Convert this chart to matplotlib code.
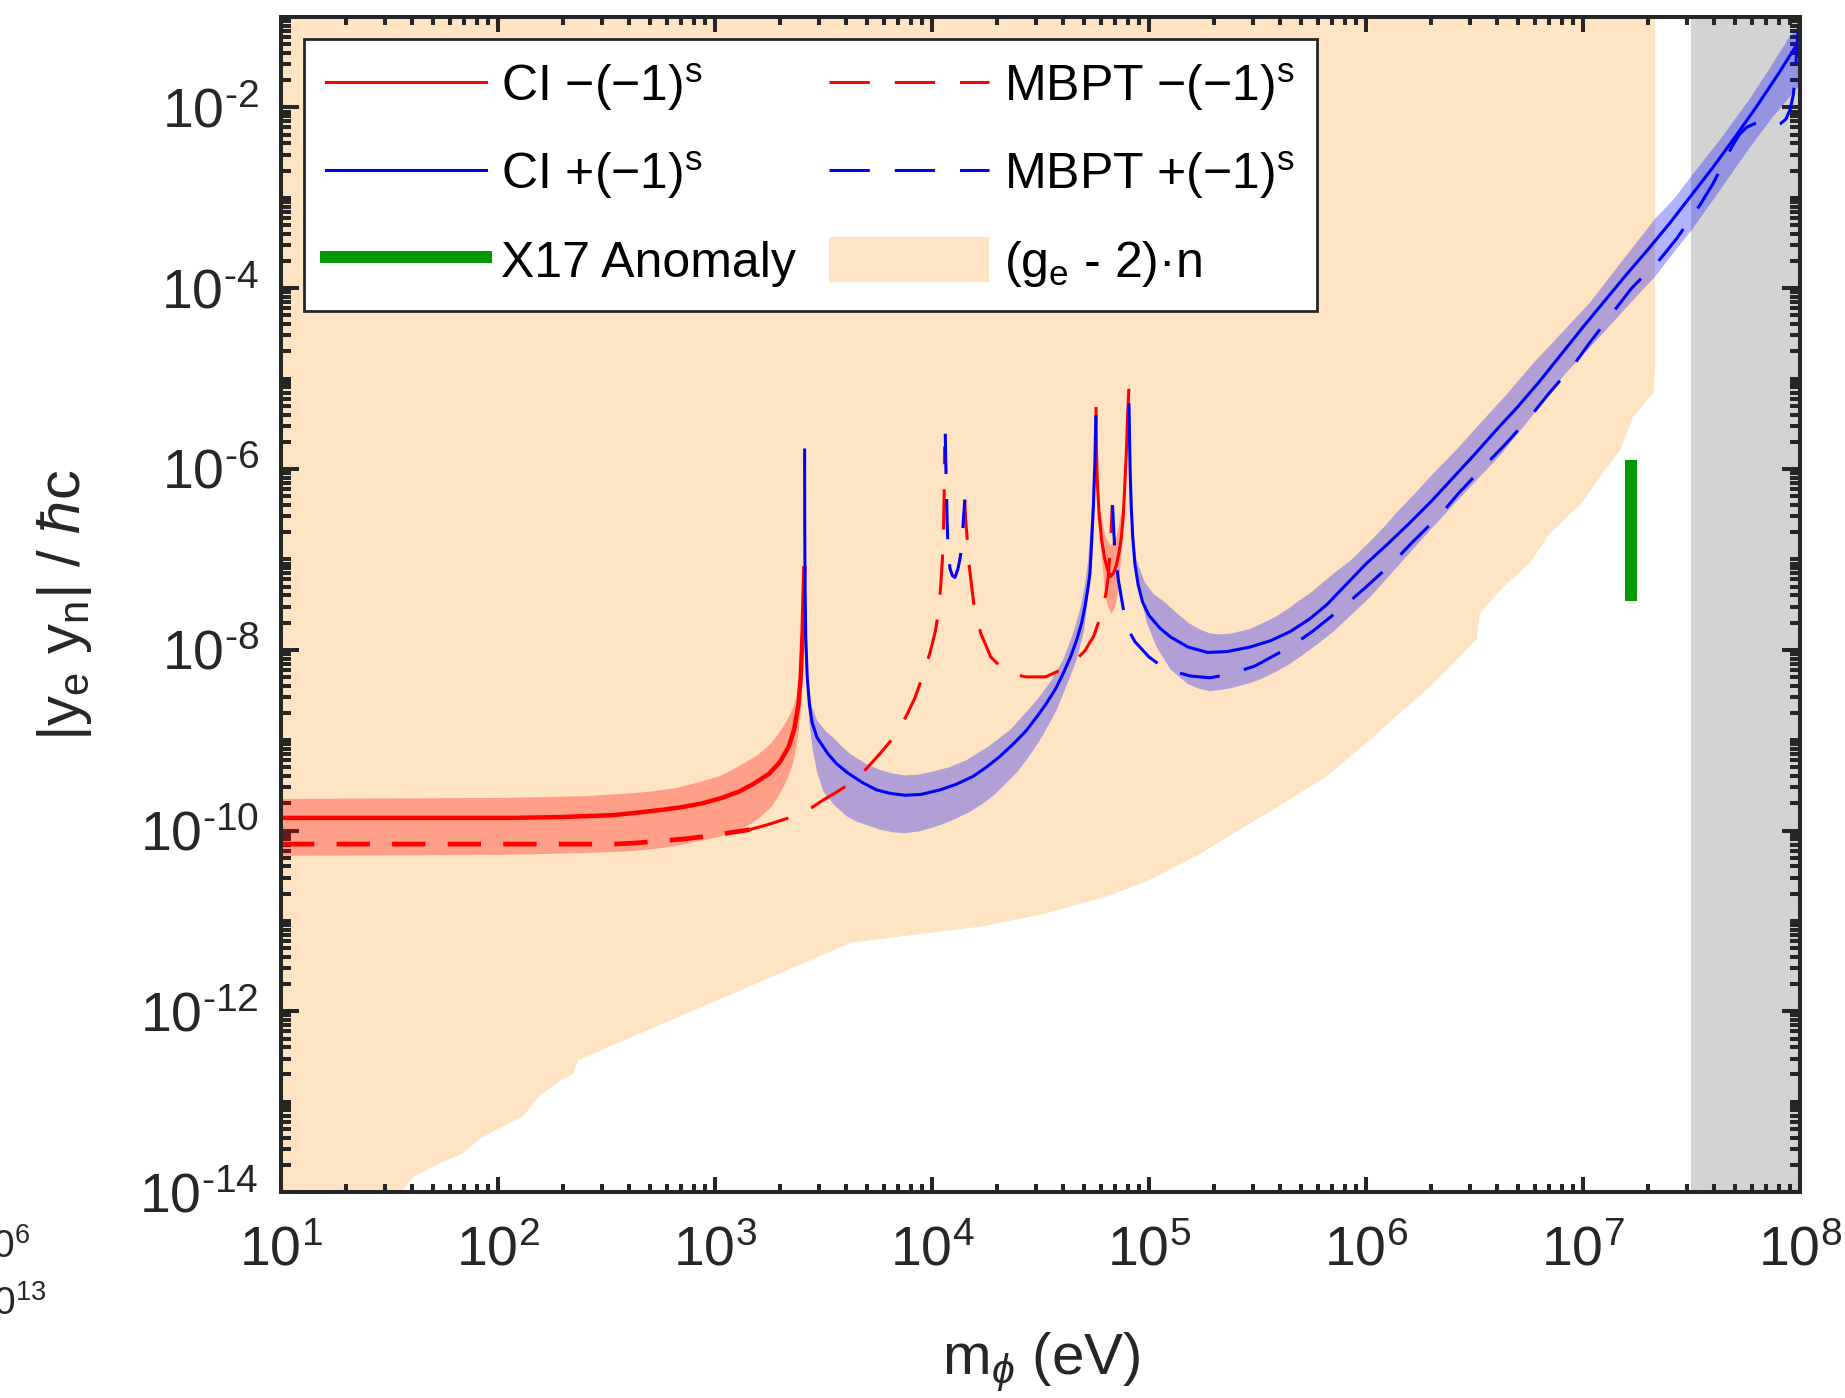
import numpy as np
import matplotlib
matplotlib.use("Agg")
import matplotlib.pyplot as plt
from matplotlib.patches import Patch
from matplotlib.lines import Line2D
from matplotlib.ticker import LogLocator, FixedLocator, FuncFormatter, NullFormatter

plt.rcParams["font.family"] = ["Liberation Sans", "DejaVu Sans"]
plt.rcParams["mathtext.fontset"] = "custom"
plt.rcParams["mathtext.rm"] = "Liberation Sans"
plt.rcParams["mathtext.it"] = "Liberation Sans:italic"
plt.rcParams["mathtext.bf"] = "Liberation Sans:bold"
plt.rcParams["mathtext.fallback"] = "stix"
plt.rcParams["axes.unicode_minus"] = False
plt.rcParams["lines.scale_dashes"] = False

# ---- data (log10 of mass in eV, log10 of |y_e y_n|) ----
# CI curve, split by sign
ci_red1_lm = [1.0, 1.5, 2.07, 2.3, 2.53, 2.65, 2.76, 2.85, 2.94, 3.03, 3.11, 3.18, 3.25, 3.30, 3.34, 3.365, 3.385,
              3.395, 3.404, 3.410, 3.412]
ci_red1_ly = [-9.86, -9.86, -9.86, -9.85, -9.83, -9.80, -9.77, -9.74, -9.70, -9.64, -9.57, -9.48, -9.37, -9.24, -9.07,
              -8.88, -8.60, -8.30, -7.80, -7.25, -7.10]

ci_blue1_lm = [3.413, 3.4135, 3.415, 3.418, 3.425, 3.435, 3.447, 3.47, 3.52, 3.56, 3.61, 3.68, 3.744, 3.81, 3.876,
               3.95, 4.037, 4.11, 4.19, 4.25, 4.313, 4.38, 4.436, 4.49, 4.528, 4.57, 4.605, 4.64, 4.667, 4.69,
               4.705, 4.72, 4.728, 4.736, 4.744, 4.751, 4.755]
ci_blue1_ly = [-5.79, -6.6, -7.3, -7.85, -8.30, -8.60, -8.80, -8.97, -9.15, -9.26, -9.36, -9.47, -9.55, -9.59, -9.61,
               -9.60, -9.55, -9.49, -9.40, -9.30, -9.18, -9.03, -8.89, -8.72, -8.59, -8.43, -8.26, -8.07, -7.89, -7.70,
               -7.52, -7.30, -7.15, -6.80, -6.40, -5.90, -5.42]

ci_red2_lm = [4.756, 4.758, 4.762, 4.770, 4.782, 4.795, 4.810, 4.823, 4.837, 4.850, 4.862, 4.873, 4.882, 4.889, 4.896, 4.902, 4.907]
ci_red2_ly = [-5.33, -5.80, -6.15, -6.50, -6.79, -6.98, -7.12, -7.19, -7.15, -7.06, -6.92, -6.75, -6.50, -6.15, -5.80, -5.38, -5.13]

ci_blue2_lm = [4.908, 4.910, 4.913, 4.918, 4.925, 4.935, 4.95, 4.97, 5.0, 5.05, 5.10, 5.18, 5.27, 5.36, 5.465, 5.56,
               5.65, 5.74, 5.82, 5.90, 6.0, 6.1, 6.2, 6.3, 6.4, 6.5, 6.6, 6.7, 6.8, 6.9, 7.0, 7.1, 7.2, 7.3, 7.4,
               7.5, 7.6, 7.7, 7.8, 7.9, 8.0]
ci_blue2_ly = [-5.29, -5.6, -6.0, -6.4, -6.75, -7.05, -7.28, -7.47, -7.62, -7.76, -7.86, -7.97, -8.03, -8.02, -7.97, -7.90,
               -7.80, -7.66, -7.50, -7.30, -7.05, -6.83, -6.60, -6.36, -6.10, -5.84, -5.57, -5.31, -5.03, -4.73, -4.43,
               -4.14, -3.85, -3.57, -3.28, -2.97, -2.66, -2.33, -1.99, -1.63, -1.25]

# MBPT curve, split by sign
mb_red1a_lm = [1.0, 1.5, 2.0, 2.53, 2.62, 2.73, 2.87, 3.0, 3.08, 3.16]
mb_red1a_ly = [-10.15, -10.15, -10.15, -10.15, -10.14, -10.12, -10.09, -10.05, -10.02, -9.99]
mb_red1b_lm = [3.16, 3.25, 3.34, 3.40, 3.45, 3.50, 3.55, 3.61, 3.66, 3.70, 3.76, 3.82, 3.85, 3.88, 3.92, 3.95, 3.99,
               4.015, 4.029, 4.040, 4.048, 4.053, 4.056, 4.058]
mb_red1b_ly = [-9.99, -9.93, -9.86, -9.80, -9.74, -9.66, -9.59, -9.50, -9.41, -9.31, -9.15, -8.98, -8.87, -8.74, -8.54,
               -8.34, -8.04, -7.80, -7.60, -7.30, -7.00, -6.70, -6.30, -5.75]

mb_blue1_lm = [4.061, 4.065, 4.070, 4.074, 4.083, 4.094, 4.106, 4.120, 4.130, 4.136, 4.145, 4.151]
mb_blue1_ly = [-5.61, -6.09, -6.60, -6.88, -7.10, -7.18, -7.20, -7.10, -6.98, -6.88, -6.56, -6.34]

mb_red2_lm = [4.151, 4.155, 4.163, 4.171, 4.183, 4.194, 4.225, 4.271, 4.317, 4.375, 4.432, 4.524, 4.605, 4.66, 4.705,
              4.745, 4.78, 4.80, 4.812, 4.822, 4.828, 4.831]
mb_red2_ly = [-6.34, -6.56, -6.79, -7.06, -7.30, -7.52, -7.82, -8.08, -8.19, -8.27, -8.30, -8.30, -8.21, -8.12, -8.01,
              -7.85, -7.61, -7.40, -7.20, -6.85, -6.56, -6.40]

mb_blue2_lm = [4.832, 4.838, 4.843, 4.859, 4.889, 4.91, 4.935, 5.0, 5.074, 5.189, 5.281, 5.373, 5.488, 5.657, 5.757,
               5.903, 6.003, 6.126, 6.218, 6.349, 6.426, 6.556, 6.641, 6.764, 6.841, 6.96, 7.032, 7.147, 7.224, 7.355,
               7.432, 7.539, 7.60, 7.685, 7.72, 7.754, 7.79, 7.83, 7.86, 7.885, 7.91, 7.935, 7.955, 7.97, 7.98, 7.99, 8.0]
mb_blue2_ly = [-6.40, -6.70, -6.91, -7.23, -7.65, -7.80, -7.91, -8.08, -8.21, -8.29, -8.31, -8.27, -8.18, -7.96, -7.79,
               -7.51, -7.30, -7.03, -6.80, -6.49, -6.27, -5.94, -5.73, -5.40, -5.17, -4.84, -4.60, -4.24, -4.00, -3.68,
               -3.45, -3.08, -2.84, -2.44, -2.30, -2.22, -2.18, -2.17, -2.20, -2.21, -2.18, -2.13, -2.02, -1.85, -1.55, -1.20, -0.95]

# CI uncertainty bands (upper edge, lower edge)
rb1_up_lm = [1.0, 2.0, 2.4, 2.6, 2.7, 2.82, 2.92, 3.02, 3.08, 3.13, 3.18, 3.22, 3.26, 3.29, 3.32, 3.34, 3.36, 3.376,
             3.392, 3.404, 3.41]
rb1_up_ly = [-9.65, -9.64, -9.62, -9.59, -9.57, -9.53, -9.47, -9.40, -9.33, -9.26, -9.19, -9.12, -9.03, -8.94, -8.83,
             -8.74, -8.64, -8.52, -8.25, -7.95, -7.70]
rb1_lo_lm = [1.0, 2.0, 2.4, 2.6, 2.7, 2.82, 2.92, 3.02, 3.07, 3.11, 3.17, 3.22, 3.26, 3.29, 3.32, 3.345, 3.361, 3.375,
             3.387, 3.396, 3.403, 3.41]
rb1_lo_ly = [-10.28, -10.27, -10.25, -10.23, -10.21, -10.17, -10.12, -10.07, -10.03, -9.99, -9.92, -9.83, -9.74, -9.63,
             -9.50, -9.36, -9.24, -9.08, -8.88, -8.65, -8.35, -7.70]

bb1_up_lm = [3.4135, 3.416, 3.42, 3.43, 3.445, 3.47, 3.51, 3.553, 3.58, 3.622, 3.694, 3.76, 3.82, 3.876, 3.94, 4.0,
             4.08, 4.16, 4.26, 4.359, 4.42, 4.482, 4.55, 4.605, 4.65, 4.682, 4.705, 4.720, 4.735, 4.748]
bb1_up_ly = [-7.0, -7.6, -8.0, -8.4, -8.62, -8.78, -8.90, -8.99, -9.06, -9.15, -9.26, -9.33, -9.37, -9.39, -9.38, -9.35,
             -9.30, -9.22, -9.07, -8.89, -8.73, -8.56, -8.34, -8.11, -7.82, -7.56, -7.28, -7.01, -6.5, -5.9]
bb1_lo_lm = [3.4145, 3.418, 3.425, 3.435, 3.45, 3.47, 3.50, 3.55, 3.606, 3.65, 3.70, 3.76, 3.82, 3.876, 3.94, 4.0,
             4.05, 4.10, 4.17, 4.236, 4.29, 4.34, 4.39, 4.436, 4.47, 4.51, 4.574, 4.62, 4.667, 4.70, 4.713, 4.736,
             4.745, 4.752]
bb1_lo_ly = [-7.2, -7.9, -8.4, -8.8, -9.1, -9.35, -9.57, -9.72, -9.84, -9.90, -9.94, -9.99, -10.02, -10.03, -10.01,
             -9.97, -9.93, -9.88, -9.80, -9.70, -9.60, -9.48, -9.36, -9.22, -9.10, -8.95, -8.67, -8.40, -8.11, -7.80,
             -7.56, -7.01, -6.5, -5.9]

rb2_up_lm = [4.766, 4.80, 4.823, 4.85, 4.885]
rb2_up_ly = [-6.35, -6.75, -6.85, -6.75, -6.35]
rb2_lo_lm = [4.766, 4.78, 4.795, 4.81, 4.828, 4.845, 4.86, 4.875, 4.885]
rb2_lo_ly = [-6.35, -6.90, -7.30, -7.52, -7.60, -7.52, -7.30, -6.90, -6.35]

bb2_up_lm = [4.908, 4.915, 4.925, 4.943, 4.98, 5.02, 5.081, 5.13, 5.18, 5.23, 5.281, 5.33, 5.38, 5.465, 5.52, 5.58,
             5.64, 5.696, 5.75, 5.80, 5.86, 5.926, 6.003, 6.08, 6.15, 6.23, 6.31, 6.42, 6.525, 6.65, 6.771, 6.90,
             7.032, 7.18, 7.333, 7.42, 7.5, 7.64, 7.77, 7.86, 7.954, 8.0]
bb2_up_ly = [-5.4, -6.2, -6.7, -7.01, -7.25, -7.38, -7.49, -7.60, -7.70, -7.77, -7.82, -7.83, -7.82, -7.77, -7.71,
             -7.64, -7.55, -7.45, -7.36, -7.26, -7.14, -7.02, -6.84, -6.65, -6.46, -6.26, -6.05, -5.78, -5.50, -5.17,
             -4.83, -4.50, -4.16, -3.70, -3.23, -3.01, -2.76, -2.33, -1.90, -1.57, -1.21, -1.10]
bb2_lo_lm = [4.909, 4.912, 4.92, 4.935, 4.96, 4.99, 5.035, 5.10, 5.18, 5.23, 5.281, 5.37, 5.465, 5.52, 5.58, 5.64,
             5.696, 5.77, 5.85, 5.93, 6.018, 6.16, 6.31, 6.46, 6.618, 6.77, 6.925, 7.08, 7.232, 7.333, 7.42, 7.5,
             7.63, 7.77, 7.88, 8.0]
bb2_lo_ly = [-5.5, -6.0, -6.5, -6.95, -7.40, -7.70, -7.97, -8.22, -8.38, -8.43, -8.46, -8.43, -8.37, -8.32, -8.25,
             -8.17, -8.08, -7.95, -7.80, -7.62, -7.42, -7.04, -6.64, -6.25, -5.85, -5.40, -4.93, -4.53, -4.13, -3.87,
             -3.60, -3.36, -2.92, -2.44, -2.09, -1.75]

# (g_e - 2) n excluded region: lower boundary
ge2_lm = [1.0, 1.55, 1.561, 1.613, 1.736, 1.839, 1.922, 2.117, 2.189, 2.290, 2.343, 2.370, 3.629, 4.236, 4.52, 4.805,
          5.0, 5.227, 5.419, 5.619, 5.819, 6.018, 6.118, 6.295, 6.510, 6.525, 6.618, 6.756, 6.848, 6.994, 7.078,
          7.171, 7.232, 7.325, 7.332]
ge2_ly = [-14.5, -14.5, -13.98, -13.83, -13.68, -13.57, -13.40, -13.16, -12.94, -12.76, -12.70, -12.54, -11.24, -11.06,
          -10.92, -10.73, -10.55, -10.27, -9.99, -9.70, -9.40, -9.00, -8.78, -8.41, -7.89, -7.60, -7.34, -7.04, -6.71,
          -6.38, -6.09, -5.79, -5.42, -5.16, -4.90]

# X17 anomaly and grey region
x17_mass = 1.66e7
x17_range = [3.5e-8, 1.26e-6]
grey_range = [3.15e7, 1e8]

# ---- colours ----
red = "#FF0000"
blue = "#0000FF"
green = "#009900"
orange = "#FFE4C4"
grey = "#D3D3D3"
ink = "#262626"

fig = plt.figure(figsize=(18.45, 13.98), dpi=100)
ax = fig.add_axes([0.1523, 0.1473, 0.8233, 0.8405])


def p(lm, ly):
    return 10.0 ** np.asarray(lm), 10.0 ** np.asarray(ly)


def band(ax, up_lm, up_ly, lo_lm, lo_ly, color):
    xu, yu = p(up_lm, up_ly)
    xl, yl = p(lo_lm, lo_ly)
    ax.fill(np.concatenate([xu, xl[::-1]]), np.concatenate([yu, yl[::-1]]),
            color=color, alpha=0.3, lw=0, zorder=2)


# background regions
gx, gy = p(ge2_lm, ge2_ly)
ax.fill(np.concatenate([gx, [gx[-1], gx[0]]]), np.concatenate([gy, [1.0, 1.0]]),
        color=orange, lw=0, zorder=1)
ax.axvspan(grey_range[0], grey_range[1], color=grey, lw=0, zorder=1)

# bands
band(ax, rb1_up_lm, rb1_up_ly, rb1_lo_lm, rb1_lo_ly, red)
band(ax, rb2_up_lm, rb2_up_ly, rb2_lo_lm, rb2_lo_ly, red)
band(ax, bb1_up_lm, bb1_up_ly, bb1_lo_lm, bb1_lo_ly, blue)
band(ax, bb2_up_lm, bb2_up_ly, bb2_lo_lm, bb2_lo_ly, blue)

# curves
dash = (0, (29, 18))
lw = 2.2
ax.plot(*p(ci_red1_lm, ci_red1_ly), color=red, lw=3.2, zorder=4)
ax.plot(*p(ci_red2_lm, ci_red2_ly), color=red, lw=lw, zorder=4)
ax.plot(*p(ci_blue1_lm, ci_blue1_ly), color=blue, lw=lw, zorder=4)
ax.plot(*p(ci_blue2_lm, ci_blue2_ly), color=blue, lw=lw, zorder=4)
ax.plot(*p(mb_red1a_lm, mb_red1a_ly), color=red, lw=3.4, ls=(0, (24, 16)), zorder=4)
ax.plot(*p(mb_red1b_lm, mb_red1b_ly), color=red, lw=lw, ls=dash, zorder=4)
ax.plot(*p(mb_red2_lm, mb_red2_ly), color=red, lw=lw, ls=dash, zorder=4)
ax.plot(*p(mb_blue1_lm, mb_blue1_ly), color=blue, lw=lw, ls=dash, zorder=4)
ax.plot(*p(mb_blue2_lm, mb_blue2_ly), color=blue, lw=lw, ls=dash, zorder=4)
ax.plot([x17_mass, x17_mass], x17_range, color=green, lw=8.6, solid_capstyle="butt", zorder=5)

ax.set_xscale("log")
ax.set_yscale("log")
ax.set_xlim(1e1, 1e8)
ax.set_ylim(1e-14, 1e-1)


def pow10(v, pos):
    k = int(round(np.log10(v)))
    if k < 0:
        return r"10$^{\text{-%d}}$" % (-k)
    return r"10$^{%d}$" % k


ax.xaxis.set_major_locator(LogLocator(base=10, numticks=20))
ax.xaxis.set_major_formatter(FuncFormatter(pow10))
ax.xaxis.set_minor_locator(LogLocator(base=10, subs=np.arange(2, 10), numticks=100))
ax.xaxis.set_minor_formatter(NullFormatter())
ax.yaxis.set_major_locator(FixedLocator([10.0 ** k for k in range(-14, -1, 2)]))
ax.yaxis.set_major_formatter(FuncFormatter(pow10))
ax.yaxis.set_minor_locator(FixedLocator([m * 10.0 ** k for k in range(-14, -1) for m in range(1, 10)]))
ax.yaxis.set_minor_formatter(NullFormatter())

ax.tick_params(which="both", direction="in", top=True, right=True, colors=ink, width=2.9)
ax.tick_params(axis="x", which="major", length=11, pad=24, labelsize=40)
ax.tick_params(axis="x", which="minor", length=5.5)
ax.tick_params(axis="y", which="major", length=13, pad=16, labelsize=40)
ax.tick_params(axis="y", which="minor", length=7.5)
for s in ax.spines.values():
    s.set_linewidth(2.9)
    s.set_color(ink)
    s.set_zorder(6)

fig.text(1041 / 1845, 1 - 1362 / 1398, r"m$_\phi$ (eV)", fontsize=42, color=ink, ha="center", va="center")
fig.text(65 / 1845, 1 - 605 / 1398, r"|y$_\mathrm{e}$ y$_\mathrm{n}$| / $\hbar$c", fontsize=43,
         color=ink, ha="center", va="center", rotation=90)

# stray labels at the lower-left edge
fig.text(30 / 1845, 1 - 1258 / 1398, r"10$^{6}$", fontsize=28, color=ink, ha="right", va="baseline")
fig.text(47 / 1845, 1 - 1315 / 1398, r"10$^{13}$", fontsize=28, color=ink, ha="right", va="baseline")

handles = [
    Line2D([], [], color=red, lw=lw),
    Line2D([], [], color=blue, lw=lw),
    Line2D([], [], color=green, lw=8.6),
    Line2D([], [], color=red, lw=lw, ls=dash),
    Line2D([], [], color=blue, lw=lw, ls=dash),
    Patch(facecolor=orange, edgecolor="none"),
]
labels = [
    r"CI −(−1)$^\mathrm{s}$",
    r"CI +(−1)$^\mathrm{s}$",
    "X17 Anomaly",
    r"MBPT −(−1)$^\mathrm{s}$",
    r"MBPT +(−1)$^\mathrm{s}$",
    r"(g$_\mathrm{e}$ - 2)·n",
]
leg = ax.legend(handles, labels, ncol=2, loc="upper left", bbox_to_anchor=(0.0149, 0.9814),
                borderaxespad=0, fontsize=36, handlelength=3.2, handleheight=1.0, handletextpad=0.3,
                columnspacing=0.65, labelspacing=0.72, borderpad=0.45, fancybox=False, framealpha=1,
                edgecolor=ink)
leg.get_frame().set_linewidth(2.0)
leg.set_zorder(7)

fig.savefig("out.png", dpi=100)
